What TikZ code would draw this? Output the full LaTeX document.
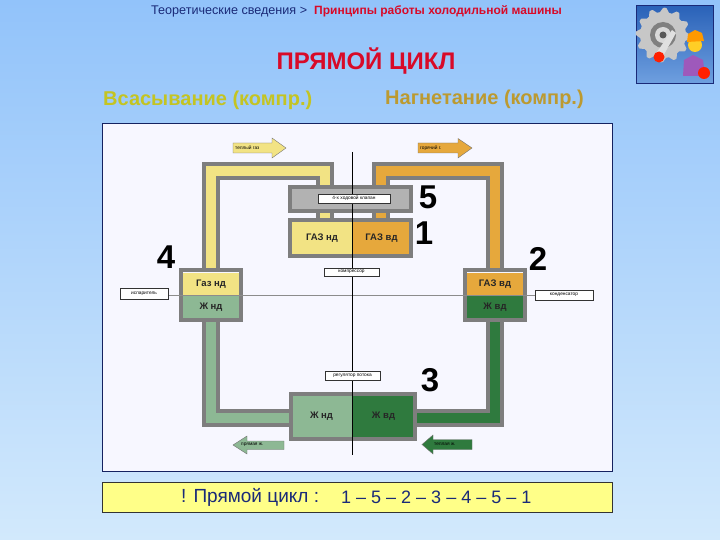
\documentclass[tikz,border=0pt]{standalone}
\usepackage{fontspec}
\setmainfont{Liberation Sans}
\usetikzlibrary{calc}
\definecolor{pgray}{HTML}{7E7E7E}
\definecolor{yel}{HTML}{F2E384}
\definecolor{ora}{HTML}{E6A83C}
\definecolor{lgr}{HTML}{8DB894}
\definecolor{dgr}{HTML}{2F7A3E}
\definecolor{navyt}{HTML}{1A2A78}
\definecolor{redt}{HTML}{D80A28}
\definecolor{suct}{HTML}{C4C422}
\definecolor{prest}{HTML}{BC9A30}
\definecolor{bgt}{HTML}{92C3FA}
\definecolor{bgb}{HTML}{D2E9FC}
\definecolor{barf}{HTML}{FFFF88}
\definecolor{icb}{HTML}{2A62B8}
\definecolor{icl}{HTML}{6FA0E0}
\tikzset{
  half/.style={inner sep=0pt,outer sep=0pt,font=\bfseries\fontsize{9.5}{10}\selectfont,text=black!85},
  frame/.style={draw=pgray,line width=4pt,inner sep=0pt,outer sep=0pt},
  pipeo/.style={draw=pgray,line width=18pt,line join=miter},
  pipei/.style={line width=10pt,line join=miter},
  tag/.style={draw=black!80,fill=white,line width=.5pt,inner sep=0pt,font=\fontsize{4.8}{5}\selectfont},
  num/.style={font=\bfseries\fontsize{33}{34}\selectfont,inner sep=0pt},
  flowline/.style={draw=black!55,line width=.4pt},
  flowtext/.style={inner sep=0pt,anchor=west,font=\fontsize{4.8}{5}\selectfont,text=black},
  ttl/.style={inner sep=0pt,font=\bfseries\fontsize{20}{22}\selectfont}
}
\begin{document}
\begin{tikzpicture}[x=1pt,y=-1pt]
\useasboundingbox (0,0) rectangle (720,540);
\shade[top color=bgt,bottom color=bgb] (0,0) rectangle (720,540);
% headings
\node[inner sep=0pt,anchor=west,text=navyt,font=\fontsize{12.6}{14}\selectfont] (crumba) at (151,11) {Теоретические сведения >};
\node[inner sep=0pt,anchor=west,text=redt,font=\bfseries\fontsize{12}{14}\selectfont] (crumbb) at (314,11) {Принципы работы холодильной машины};
\node[inner sep=0pt,text=redt,font=\bfseries\fontsize{24}{26}\selectfont] (title) at (366,61) {ПРЯМОЙ ЦИКЛ};
\node[ttl,text=suct,anchor=west] (suc) at (103,100) {Всасывание (компр.)};
\node[ttl,text=prest,anchor=west] (pres) at (385,99) {Нагнетание (компр.)};
% panel
\node[draw=navyt!80!black,line width=.8pt,fill=white!97!blue,inner sep=0pt,minimum width=510pt,minimum height=348pt] (panel) at (357,297) {};
% pipe routes
\coordinate (bl) at (210.5,322); \coordinate (br) at (494.5,322);
\coordinate (tlc) at (210.5,171); \coordinate (trc) at (494.5,171);
\coordinate (ywv) at (325,171); \coordinate (owv) at (380.5,171);
\coordinate (ybox) at (325,220); \coordinate (obox) at (380.5,220);
\coordinate (blc) at (210.5,418); \coordinate (brc) at (494.5,418);
\coordinate (lbot) at (295,418); \coordinate (rbot) at (412,418);
\coordinate (lup) at (210.5,270); \coordinate (rup) at (494.5,270);
% pipes
\draw[pipeo] (lup) -- (tlc) -- (ywv) -- (ybox);
\draw[pipei,draw=yel] (lup) -- (tlc) -- (ywv) -- (ybox);
\draw[pipeo] (rup) -- (trc) -- (owv) -- (obox);
\draw[pipei,draw=ora] (rup) -- (trc) -- (owv) -- (obox);
\draw[pipeo] (bl) -- (blc) -- (lbot);
\draw[pipei,draw=lgr] (bl) -- (blc) -- (lbot);
\draw[pipeo] (br) -- (brc) -- (rbot);
\draw[pipei,draw=dgr] (br) -- (brc) -- (rbot);
% four-way valve
\node[fill=black!30,inner sep=0pt,minimum width=125pt,minimum height=28pt] (valvef) at (350.5,199) {};
\node[frame,minimum width=121pt,minimum height=24pt] (valve) at (350.5,199) {};
% compressor
\node[half,fill=yel,minimum width=60pt,minimum height=36pt,anchor=east] (gnd) at (352,238) {ГАЗ нд};
\node[half,fill=ora,minimum width=59pt,minimum height=36pt,anchor=west] (gvd) at (352,238) {ГАЗ вд};
\node[frame,minimum width=121pt,minimum height=36pt] (comp) at (350.5,238) {};
% evaporator
\node[half,fill=yel,minimum width=60pt,minimum height=23pt] (egn) at (211,284.5) {Газ нд};
\node[half,fill=lgr,minimum width=60pt,minimum height=23pt] (ejn) at (211,307.5) {Ж нд};
\node[frame,minimum width=60pt,minimum height=50pt] (evap) at (211,295) {};
% condenser
\node[half,fill=ora,minimum width=60pt,minimum height=23pt] (cgv) at (495,284.5) {ГАЗ вд};
\node[half,fill=dgr,minimum width=60pt,minimum height=23pt] (cjv) at (495,307.5) {Ж вд};
\node[frame,minimum width=60pt,minimum height=50pt] (cond) at (495,295) {};
% expansion
\node[half,fill=lgr,minimum width=61pt,minimum height=45pt,anchor=east] (ljn) at (352,416.5) {Ж нд};
\node[half,fill=dgr,minimum width=63pt,minimum height=45pt,anchor=west] (ljv) at (352,416.5) {Ж вд};
\node[frame,minimum width=124pt,minimum height=45pt] (exp) at (353,416.5) {};
% axes
\coordinate (ht) at (352.5,152); \coordinate (hb) at (352.5,455);
\coordinate (vl) at (168,295); \coordinate (vr) at (535,295);
\draw[black!45,line width=.5pt] (vl) -- (vr);
\draw[black,line width=.8pt] (ht) -- (hb);
% tags
\node[tag,minimum width=72pt,minimum height=9pt] (t1) at (354,198.5) {4-х ходовой клапан};
\node[tag,minimum width=55pt,minimum height=8pt] (t2) at (351.5,272) {компрессор};
\node[tag,minimum width=55pt,minimum height=9pt] (t3) at (352.5,375.5) {регулятор потока};
\node[tag,minimum width=48pt,minimum height=11pt] (t4) at (144,294) {испаритель};
\node[tag,minimum width=58pt,minimum height=10pt] (t5) at (564,295) {конденсатор};
% flow arrows
\filldraw[flowline,fill=yel] (233,143) -- (272,143) -- (272,138) -- (286,148) -- (272,158) -- (272,153) -- (233,153) -- cycle;
\node[flowtext] (a1) at (235,148) {теплый газ};
\filldraw[flowline,fill=ora] (418,143) -- (458,143) -- (458,138.5) -- (472,148) -- (458,158) -- (458,153) -- (418,153) -- cycle;
\node[flowtext] (a2) at (420,148) {горячий г.};
\filldraw[flowline,fill=lgr] (284,441) -- (247,441) -- (247,436) -- (233,445) -- (247,454) -- (247,449.5) -- (284,449.5) -- cycle;
\node[flowtext] (a3) at (241,445) {прямая ж.};
\filldraw[flowline,fill=dgr] (472,439.5) -- (433,439.5) -- (433,435) -- (422,444.5) -- (433,454) -- (433,449.5) -- (472,449.5) -- cycle;
\node[flowtext] (a4) at (434,444.5) {теплая ж.};
% numbers
\node[num] (n4) at (166,257) {4};
\node[num] (n5) at (428,197) {5};
\node[num] (n1) at (424,233) {1};
\node[num] (n2) at (538,259) {2};
\node[num] (n3) at (430,380) {3};
% bottom bar
\node[draw=black!80,line width=.8pt,fill=barf,inner sep=0pt,minimum width=510pt,minimum height=30pt] (bar) at (357,497) {};
\node[inner sep=0pt,anchor=west,text=navyt,font=\fontsize{19}{20}\selectfont] (b1) at (181,497) {! Прямой цикл :};
\node[inner sep=0pt,anchor=west,text=navyt,font=\fontsize{18}{20}\selectfont] (b2) at (341,497) {1 – 5 – 2 – 3 – 4 – 5 – 1};
% icon
\shade[top color=icb,bottom color=icl] (636,6) rectangle (713,84);
\draw[navyt,line width=1pt] (636,6) rectangle (713,84);
\fill[black!22] plot[smooth cycle,samples=48,domain=0:352.5] ({663+(24+(mod(\x,30)<15?3:-1))*cos(\x)},{35+(24+(mod(\x,30)<15?3:-1))*sin(\x)});
\fill[black!50] (663,35) circle (13);
\fill[black!15] (663,35) circle (8);
\fill[black!65] (663,35) circle (3.5);
\fill[black!12] (655,55) -- (672,30) -- (676,33) -- (662,58) -- cycle;
\fill[red!75!orange] (659,57) circle (5.5);
\fill[blue!45!purple!65] (683,76) -- (684,60) -- (693,55) -- (703,60) -- (705,76) -- cycle;
\fill[orange!45!yellow!85!white] (695,45) circle (7);
\fill[orange!80!yellow] (687,42) -- (688,34) -- (695,30) -- (702,33) -- (704,41) -- cycle;
\fill[red!75!orange] (704,73) circle (6);
\end{tikzpicture}
\end{document}
